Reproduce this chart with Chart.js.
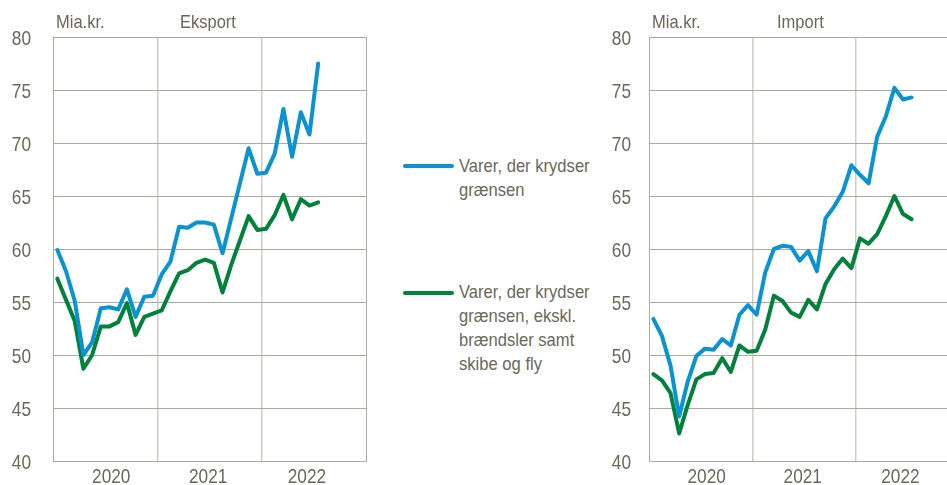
<!DOCTYPE html>
<html>
<head>
<meta charset="utf-8">
<script src="https://cdn.jsdelivr.net/npm/chart.js@4"></script>
<style>
  html, body { margin: 0; padding: 0; background: #fff; }
  body { width: 947px; height: 485px; position: relative; overflow: hidden; font-family: 'Liberation Sans', Arial, sans-serif; color: #6b6859; }
  .panel { position: absolute; top: 0; height: 485px; }
  .lbl { position: absolute; font-size: 16.5px; line-height: 20px; white-space: nowrap; transform: scaleY(1.1); }
  .legend { position: absolute; left: 403px; font-size: 16.6px; line-height: 22.6px; }
  .legend .swatch { position: absolute; left: 0; width: 51px; height: 4px; border-radius: 2px; }
  .legend .txt { position: absolute; left: 56px; white-space: nowrap; transform: scaleY(1.06); transform-origin: left top; }
</style>
</head>
<body>
<div class="panel" style="left:0;width:370px"><canvas id="eksport"></canvas></div>
<div class="panel" style="left:600px;width:360px"><canvas id="import"></canvas></div>

<div class="lbl" style="left:56px;top:11px">Mia.kr.</div>
<div class="lbl" style="left:180px;top:11px">Eksport</div>
<div class="lbl" style="left:652px;top:11px">Mia.kr.</div>
<div class="lbl" style="left:777px;top:11px">Import</div>

<div class="legend" style="top:0">
  <div class="swatch" style="top:164px;background:#0a93d3"></div>
  <div class="txt" style="top:155px">Varer, der krydser<br>grænsen</div>
  <div class="swatch" style="top:291px;background:#00823a"></div>
  <div class="txt" style="top:281px">Varer, der krydser<br>grænsen, ekskl.<br>brændsler samt<br>skibe og fly</div>
</div>

<script>
// monthly, Jan 2020 - Jul 2022
const months = [
  '2020M01','2020M02','2020M03','2020M04','2020M05','2020M06','2020M07','2020M08','2020M09','2020M10','2020M11','2020M12',
  '2021M01','2021M02','2021M03','2021M04','2021M05','2021M06','2021M07','2021M08','2021M09','2021M10','2021M11','2021M12',
  '2022M01','2022M02','2022M03','2022M04','2022M05','2022M06','2022M07'
];
const yearLabels = ['2020', '2021', '2022'];
const yearLabelAt = [6.7, 17.85, 29.2]; // month position of each year label on the axis
const yTicks = [40, 45, 50, 55, 60, 65, 70, 75, 80];

const eksportTotal = [
  59.9, 57.9, 55.1, 50.0, 51.2, 54.4, 54.5, 54.3, 56.2, 53.6, 55.5, 55.6,
  57.6, 58.8, 62.1, 62.0, 62.5, 62.5, 62.3, 59.6, 62.9, 66.2, 69.5, 67.1,
  67.2, 69.0, 73.2, 68.7, 72.9, 70.8, 77.5
];
const eksportEkskl = [
  57.2, 55.2, 53.2, 48.7, 50.0, 52.7, 52.7, 53.1, 54.9, 51.9, 53.6, 53.9,
  54.2, 56.0, 57.7, 58.0, 58.7, 59.0, 58.7, 55.9, 58.5, 60.8, 63.1, 61.8,
  61.9, 63.2, 65.1, 62.8, 64.7, 64.1, 64.4
];
const importTotal = [
  53.4, 51.8, 49.0, 44.2, 47.5, 49.9, 50.6, 50.5, 51.5, 50.9, 53.8, 54.7,
  53.8, 57.8, 60.0, 60.3, 60.2, 58.9, 59.8, 57.9, 62.9, 64.0, 65.4, 67.9,
  67.0, 66.2, 70.6, 72.5, 75.2, 74.1, 74.3
];
const importEkskl = [
  48.2, 47.6, 46.4, 42.6, 45.3, 47.7, 48.2, 48.3, 49.7, 48.4, 50.9, 50.3,
  50.4, 52.4, 55.6, 55.1, 54.0, 53.6, 55.2, 54.3, 56.7, 58.1, 59.1, 58.2,
  61.0, 60.5, 61.4, 63.1, 65.0, 63.3, 62.8
];

const BLUE = '#0a93d3';
const GREEN = '#00823a';
const TEXT = '#6b6859';
const GRID = '#aeab9d';
const GRID_V = '#cfcdc4';

function toPoints(values) {
  // each month sits in the middle of its slot on a 0..36 month axis
  return values.map((v, i) => ({ x: i + 0.5, y: v }));
}

// axis labels in a narrow face (Arial Narrow look): regular face squeezed horizontally
const narrowLabels = {
  id: 'narrowLabels',
  afterDraw(chart) {
    const { ctx, scales: { x, y }, chartArea } = chart;
    ctx.save();
    ctx.fillStyle = TEXT;
    ctx.font = "21px 'Liberation Sans', Arial, sans-serif";
    ctx.textBaseline = 'alphabetic';

    ctx.textAlign = 'right';
    yTicks.forEach(v => {
      ctx.save();
      ctx.translate(31, y.getPixelForValue(v) + 7.6);
      ctx.scale(0.82, 1);
      ctx.fillText(String(v), 0, 0);
      ctx.restore();
    });

    ctx.textAlign = 'center';
    yearLabels.forEach((lab, i) => {
      ctx.save();
      ctx.translate(x.getPixelForValue(yearLabelAt[i]), chartArea.bottom + 22);
      ctx.scale(0.82, 1);
      ctx.fillText(lab, 0, 0);
      ctx.restore();
    });
    ctx.restore();
  }
};

function makeChart(id, total, ekskl, yAxisWidth, padRight) {
  const ctx = document.getElementById(id).getContext('2d');
  return new Chart(ctx, {
    type: 'line',
    data: {
      datasets: [
        { label: 'Varer, der krydser grænsen', data: toPoints(total), borderColor: BLUE, borderWidth: 4 },
        { label: 'Varer, der krydser grænsen, ekskl. brændsler samt skibe og fly', data: toPoints(ekskl), borderColor: GREEN, borderWidth: 4 }
      ]
    },
    options: {
      responsive: true,
      maintainAspectRatio: false,
      animation: false,
      layout: { padding: { top: 37, right: padRight } },
      elements: {
        point: { radius: 0 },
        line: { tension: 0, borderCapStyle: 'round', borderJoinStyle: 'round' }
      },
      plugins: { legend: { display: false }, tooltip: { enabled: false } },
      scales: {
        x: {
          type: 'linear',
          min: 0,
          max: 36,
          afterBuildTicks: (scale) => {
            scale.ticks = [0, 12, 24, 36].map(v => ({ value: v }));
          },
          afterFit: (scale) => { scale.height = 24; },
          grid: {
            drawTicks: false,
            color: (c) => {
              const v = c.tick && c.tick.value;
              if (v === 12 || v === 24) return GRID_V;
              if (v === 36) return GRID;
              return 'rgba(0,0,0,0)';
            },
            lineWidth: (c) => (c.tick && (c.tick.value === 12 || c.tick.value === 24)) ? 1.5 : 1
          },
          border: { display: true, color: GRID, width: 1 },
          ticks: { display: false }
        },
        y: {
          min: 40,
          max: 80,
          afterBuildTicks: (scale) => { scale.ticks = yTicks.map(v => ({ value: v })); },
          afterFit: (scale) => { scale.width = yAxisWidth; },
          grid: { drawTicks: false, color: GRID, lineWidth: 1 },
          border: { display: true, color: GRID, width: 1 },
          ticks: { display: false }
        }
      }
    },
    plugins: [narrowLabels]
  });
}

makeChart('eksport', eksportTotal, eksportEkskl, 53, 4);
makeChart('import', importTotal, importEkskl, 49, 1);
</script>
</body>
</html>
